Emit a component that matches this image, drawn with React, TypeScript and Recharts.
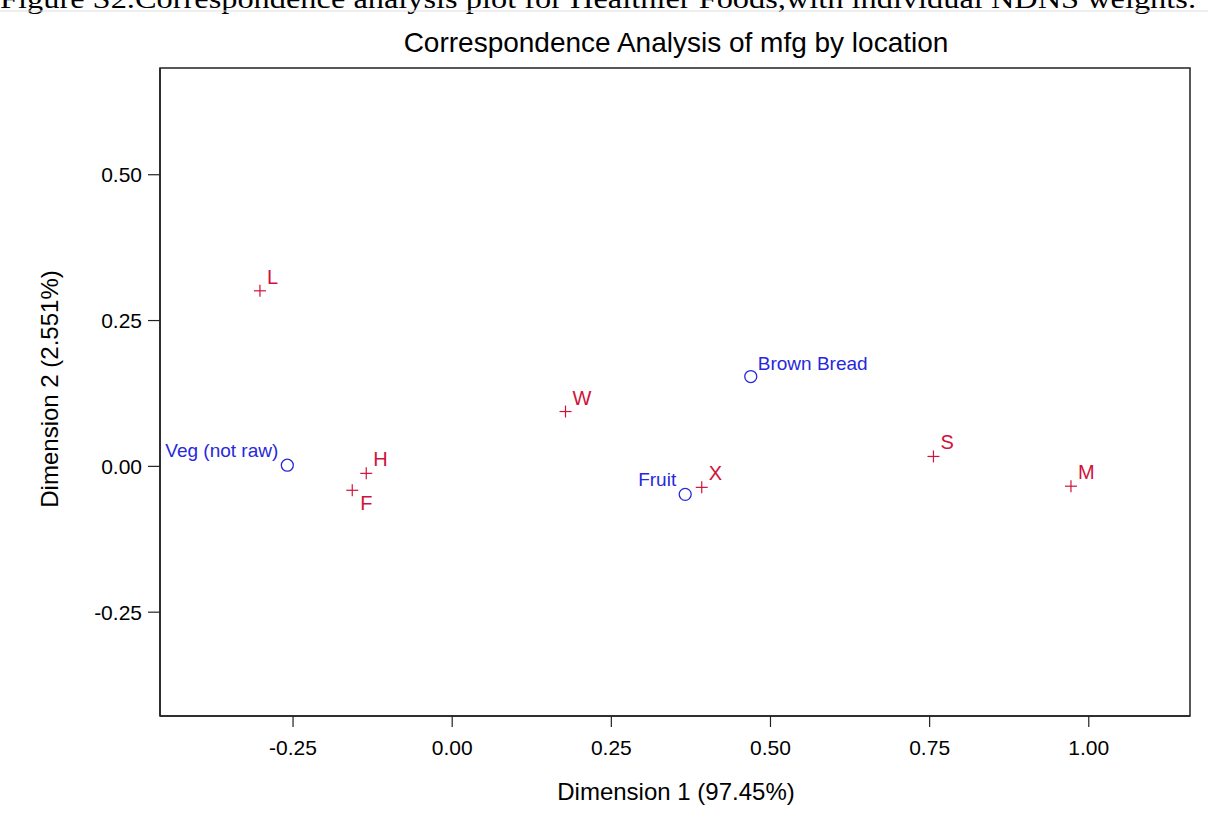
import React from "react";
import {
  ScatterChart,
  Scatter,
  XAxis,
  YAxis,
  ReferenceArea,
} from "recharts";

// row points (locations) and column points (foods)
const locNames = ["L", "H", "F", "W", "X", "S", "M"];
const locDim1 = [-0.302, -0.135, -0.157, 0.178, 0.392, 0.756, 0.972];
const locDim2 = [0.301, -0.012, -0.041, 0.094, -0.036, 0.017, -0.034];

const foodNames = ["Veg (not raw)", "Brown Bread", "Fruit"];
const foodDim1 = [-0.259, 0.469, 0.366];
const foodDim2 = [0.002, 0.154, -0.048];

const xTicks = [-0.25, 0, 0.25, 0.5, 0.75, 1.0];
const yTicks = [-0.25, 0, 0.25, 0.5];
const xDomain: [number, number] = [-0.459, 1.159];
const yDomain: [number, number] = [-0.428, 0.683];

const RED = "#D0123A";
const BLUE = "#2828DC";
const FONT = "'Liberation Sans', Arial, sans-serif";

// where each point's label sits relative to its marker
const LABEL_SIDE: Record<string, "ur" | "lr" | "ul"> = {
  F: "lr",
  "Veg (not raw)": "ul",
  Fruit: "ul",
};

const locData = locNames.map((name, i) => ({ name, x: locDim1[i], y: locDim2[i] }));
const foodData = foodNames.map((name, i) => ({ name, x: foodDim1[i], y: foodDim2[i] }));

function labelProps(name: string, cx: number, cy: number) {
  const side = LABEL_SIDE[name] ?? "ur";
  if (side === "lr") return { x: cx + 8, y: cy + 20, textAnchor: "start" as const };
  if (side === "ul") return { x: cx - 9, y: cy - 8, textAnchor: "end" as const };
  return { x: cx + 7, y: cy - 7, textAnchor: "start" as const };
}

function PlusShape(props: any) {
  const { cx, cy, payload } = props;
  const lp = labelProps(payload.name, cx, cy);
  return (
    <g>
      <line x1={cx - 6} x2={cx + 6} y1={cy} y2={cy} stroke={RED} strokeWidth={1.2} />
      <line x1={cx} x2={cx} y1={cy - 6} y2={cy + 6} stroke={RED} strokeWidth={1.2} />
      <text {...lp} fill={RED} fontSize={20} fontFamily={FONT}>
        {payload.name}
      </text>
    </g>
  );
}

function CircleShape(props: any) {
  const { cx, cy, payload } = props;
  const lp = labelProps(payload.name, cx, cy);
  return (
    <g>
      <circle cx={cx} cy={cy} r={6} fill="none" stroke={BLUE} strokeWidth={1.3} />
      <text {...lp} fill={BLUE} fontSize={19} fontFamily={FONT}>
        {payload.name}
      </text>
    </g>
  );
}

const tickStyle = { fill: "#000", fontSize: 21, fontFamily: FONT };

export default function App() {
  return (
    <div style={{ position: "absolute", left: 0, top: 0, width: 1208, height: 816, background: "#fff" }}>
      <svg
        width={1208}
        height={816}
        style={{ position: "absolute", left: 0, top: 0, pointerEvents: "none" }}
      >
        <text
          x={0}
          y={8}
          fontFamily="'Liberation Serif', 'Times New Roman', serif"
          fontSize={28}
          fill="#000"
          textLength={1196}
          lengthAdjust="spacingAndGlyphs"
        >
          Figure S2.Correspondence analysis plot for Healthier Foods,with individual NDNS weights.
        </text>
        <line x1={0} x2={1208} y1={11} y2={11} stroke="#ddd" strokeWidth={1} />
        <text x={676} y={52} textAnchor="middle" fontFamily={FONT} fontSize={28} fill="#000">
          Correspondence Analysis of mfg by location
        </text>
        <text x={676} y={800} textAnchor="middle" fontFamily={FONT} fontSize={24} fill="#000">
          Dimension 1 (97.45%)
        </text>
        <text
          x={0}
          y={0}
          transform="translate(58 389) rotate(-90)"
          textAnchor="middle"
          fontFamily={FONT}
          fontSize={24}
          fill="#000"
        >
          Dimension 2 (2.551%)
        </text>
      </svg>
      <ScatterChart
        width={1208}
        height={816}
        margin={{ top: 68, right: 18, bottom: 0, left: 0 }}
        style={{ position: "absolute", left: 0, top: 0 }}
      >
        <XAxis
          type="number"
          dataKey="x"
          domain={xDomain}
          ticks={xTicks}
          allowDataOverflow
          height={100}
          tickSize={11}
          tickMargin={13}
          tick={tickStyle}
          tickFormatter={(v: number) => v.toFixed(2)}
          axisLine={{ stroke: "#222", strokeWidth: 1.5 }}
          tickLine={{ stroke: "#222", strokeWidth: 1.2 }}
        />
        <YAxis
          type="number"
          dataKey="y"
          domain={yDomain}
          ticks={yTicks}
          allowDataOverflow
          width={160}
          tickSize={12}
          tickMargin={6}
          tick={tickStyle}
          tickFormatter={(v: number) => v.toFixed(2)}
          axisLine={{ stroke: "#222", strokeWidth: 1.5 }}
          tickLine={{ stroke: "#222", strokeWidth: 1.2 }}
        />
        <ReferenceArea
          x1={xDomain[0]}
          x2={xDomain[1]}
          y1={yDomain[0]}
          y2={yDomain[1]}
          fill="none"
          stroke="#222"
          strokeWidth={1.5}
          ifOverflow="visible"
        />
        <Scatter data={locData} shape={PlusShape} isAnimationActive={false} />
        <Scatter data={foodData} shape={CircleShape} isAnimationActive={false} />
      </ScatterChart>
    </div>
  );
}
